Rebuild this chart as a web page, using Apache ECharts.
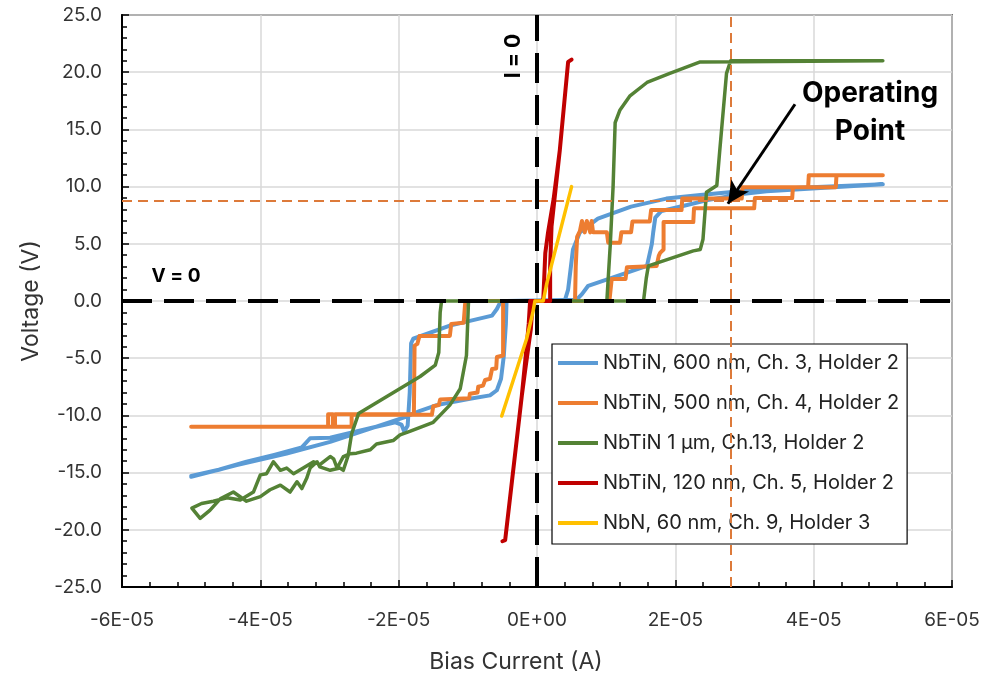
<!DOCTYPE html>
<html><head><meta charset="utf-8">
<script src="https://cdn.jsdelivr.net/npm/echarts@6/dist/echarts.min.js"></script>
<style>html,body{margin:0;padding:0;background:#fff}#c{width:994px;height:679px}</style>
</head><body><div id="c"></div><script>
// Series names (legend)
const seriesNames = [
  'NbTiN, 600 nm, Ch. 3, Holder 2',
  'NbTiN, 500 nm, Ch. 4, Holder 2',
  'NbTiN 1 \u00b5m, Ch.13, Holder 2',
  'NbTiN, 120 nm, Ch. 5, Holder 2',
  'NbN, 60 nm, Ch. 9, Holder 3'
];
// [bias current (A), voltage (V)] — full sweep loops
const nbtin600 = [
  [-5.00e-5,-15.3],[-4.60e-5,-14.75],[-4.20e-5,-14.05],[-3.80e-5,-13.45],[-3.40e-5,-12.8],[-3.28e-5,-12.0],
  [-2.99e-5,-11.95],[-2.75e-5,-11.6],[-2.40e-5,-11.1],[-2.05e-5,-10.6],[-1.96e-5,-10.8],[-1.92e-5,-11.4],
  [-1.87e-5,-10.9],[-1.84e-5,-8.0],[-1.82e-5,-3.7],[-1.79e-5,-3.3],[-1.26e-5,-2.15],[-0.65e-5,-1.28],
  [-0.58e-5,-0.7],[-0.53e-5,-0.1],[-0.50e-5,0],[0.40e-5,0],[0.45e-5,1.0],[0.52e-5,4.5],[0.62e-5,6.0],
  [0.88e-5,7.2],[1.36e-5,8.25],[1.87e-5,8.95],[2.36e-5,9.26],[2.93e-5,9.6],[3.80e-5,9.9],[5.00e-5,10.2],
  [3.32e-5,9.6],[2.93e-5,9.32],[2.45e-5,8.8],[2.11e-5,8.3],[1.80e-5,7.87],[1.71e-5,7.29],[1.68e-5,6.0],
  [1.66e-5,4.97],[1.59e-5,3.07],[0.74e-5,1.33],[0.65e-5,0.6],[0.57e-5,0.1],[0.55e-5,0],[-0.44e-5,0],
  [-0.45e-5,-2.0],[-0.48e-5,-4.8],[-0.52e-5,-6.8],[-0.58e-5,-7.8],[-0.68e-5,-8.25],[-0.97e-5,-8.54],
  [-1.45e-5,-9.1],[-1.69e-5,-9.6],[-1.93e-5,-10.2],[-2.41e-5,-11.15],[-2.99e-5,-12.31],[-3.62e-5,-13.33],
  [-4.34e-5,-14.35],[-5.00e-5,-15.36]
];
const nbtin500 = [
  [-5.00e-5,-11.0],[-3.02e-5,-11.0],[-3.02e-5,-9.9],[-2.95e-5,-9.9],[-2.95e-5,-10.9],[-2.92e-5,-10.9],
  [-2.92e-5,-9.9],[-1.78e-5,-9.9],[-1.77e-5,-3.9],[-1.73e-5,-3.75],[-1.70e-5,-3.05],[-1.26e-5,-3.05],
  [-1.24e-5,-2.0],[-1.06e-5,-1.9],[-1.04e-5,-0.3],[-1.03e-5,0],[0.55e-5,0],[0.56e-5,3.0],[0.58e-5,5.6],
  [0.62e-5,6.1],[0.65e-5,7.0],[0.69e-5,6.0],[0.72e-5,7.0],[0.77e-5,6.0],[0.79e-5,7.0],[0.81e-5,6.0],
  [1.01e-5,6.0],[1.03e-5,5.1],[1.20e-5,5.1],[1.22e-5,6.0],[1.36e-5,6.0],[1.38e-5,6.95],[1.63e-5,6.95],
  [1.65e-5,7.95],[2.09e-5,7.95],[2.10e-5,8.95],[2.96e-5,8.95],[2.97e-5,9.95],[3.92e-5,9.95],[3.93e-5,11.0],
  [5.00e-5,11.0],[4.33e-5,11.0],[4.32e-5,9.95],[3.70e-5,9.95],[3.69e-5,9.0],[3.15e-5,9.0],[3.14e-5,8.1],
  [2.27e-5,8.1],[2.26e-5,6.9],[1.83e-5,6.9],[1.83e-5,4.5],[1.78e-5,4.2],[1.76e-5,3.95],[1.73e-5,3.07],
  [1.30e-5,2.95],[1.28e-5,1.92],[1.08e-5,1.92],[1.05e-5,0.2],[1.04e-5,0],[-0.49e-5,0],[-0.49e-5,-4.76],
  [-0.58e-5,-4.9],[-0.59e-5,-5.9],[-0.65e-5,-5.95],[-0.68e-5,-6.8],[-0.75e-5,-6.9],[-0.78e-5,-7.4],
  [-0.85e-5,-7.5],[-0.86e-5,-8.0],[-0.97e-5,-8.1],[-0.98e-5,-8.5],[-1.40e-5,-8.6],[-1.42e-5,-9.1],
  [-1.50e-5,-9.2],[-1.52e-5,-9.95],[-2.68e-5,-9.95],[-2.68e-5,-11.0],[-5.00e-5,-11.0]
];
const nbtin1um = [
  [-4.99e-5,-18.1],[-4.87e-5,-19.0],[-4.73e-5,-18.3],[-4.58e-5,-17.3],[-4.39e-5,-16.7],[-4.20e-5,-17.5],
  [-4.00e-5,-17.1],[-3.86e-5,-16.5],[-3.71e-5,-16.1],[-3.57e-5,-16.7],[-3.47e-5,-15.8],[-3.40e-5,-16.4],
  [-3.33e-5,-15.5],[-3.28e-5,-14.6],[-3.18e-5,-14.05],[-3.14e-5,-14.5],[-2.99e-5,-14.8],[-2.85e-5,-14.6],
  [-2.80e-5,-14.8],[-2.73e-5,-13.5],[-2.68e-5,-11.6],[-2.58e-5,-9.84],[-1.69e-5,-6.6],[-1.47e-5,-5.6],
  [-1.42e-5,-4.5],[-1.40e-5,-1.0],[-1.38e-5,0],[1.54e-5,0],[1.58e-5,2.0],[1.61e-5,3.07],[2.26e-5,4.38],
  [2.36e-5,4.5],[2.40e-5,5.4],[2.45e-5,9.5],[2.55e-5,9.9],[2.60e-5,10.1],[2.64e-5,13.0],[2.74e-5,19.9],
  [2.80e-5,21.0],[5.00e-5,21.0],[2.36e-5,20.9],[1.92e-5,19.9],[1.59e-5,19.1],[1.34e-5,17.9],[1.20e-5,16.7],
  [1.13e-5,15.6],[1.10e-5,10.0],[1.06e-5,5.0],[1.01e-5,0],[-0.99e-5,0],[-1.02e-5,-4.76],[-1.11e-5,-7.67],
  [-1.26e-5,-9.1],[-1.50e-5,-10.6],[-1.84e-5,-11.4],[-1.98e-5,-11.7],[-2.08e-5,-12.2],[-2.32e-5,-12.5],
  [-2.41e-5,-13.0],[-2.61e-5,-13.3],[-2.70e-5,-13.35],[-2.80e-5,-13.6],[-2.89e-5,-14.6],[-2.94e-5,-13.8],
  [-2.99e-5,-13.6],[-3.14e-5,-14.3],[-3.23e-5,-14.05],[-3.38e-5,-14.6],[-3.52e-5,-15.1],[-3.62e-5,-14.6],
  [-3.71e-5,-14.8],[-3.81e-5,-14.05],[-3.91e-5,-15.1],[-4.00e-5,-15.2],[-4.10e-5,-16.7],[-4.29e-5,-17.4],
  [-4.48e-5,-17.2],[-4.68e-5,-17.5],[-4.85e-5,-17.7],[-4.99e-5,-18.1]
];
const nbtin120 = [
  [-5.0e-6,-21.0],[-4.6e-6,-20.9],[-2.2e-6,-8.3],[-1.5e-6,-4.0],[-1.2e-6,-2.0],[-1.0e-6,0],[0.9e-6,0],
  [1.2e-6,4.2],[1.6e-6,6.0],[2.4e-6,8.9],[3.3e-6,13.2],[4.5e-6,20.9],[5.0e-6,21.1],[4.5e-6,20.9],
  [3.3e-6,13.2],[2.1e-6,6.5],[1.9e-6,3.0],[1.9e-6,0],[-0.6e-6,0],[-0.9e-6,-2.5],[-1.7e-6,-6.0],[-2.2e-6,-8.3]
];
const nbn60 = [
  [-5.1e-6,-10.05],[-1.5e-6,-3.3],[-0.6e-6,-1.0],[-0.3e-6,0],[0.9e-6,0],[1.4e-6,1.5],[5.0e-6,10.0]
];
// Reference markers
const operatingPoint = [2.8e-5, 8.8]; // [current, voltage]

const colors = ['#5B9BD5','#ED7D31','#548235','#C00000','#FFC000'];
const widths = [4, 4, 3.5, 4, 3.5];
const allData = [nbtin600, nbtin500, nbtin1um, nbtin120, nbn60];
const FONT = 'Inter';

function sci(v){
  if (Math.abs(v) < 1e-12) return '0E+00';
  const e = Math.floor(Math.log10(Math.abs(v)) + 1e-9);
  const m = Math.round(v / Math.pow(10, e));
  return m + 'E' + (e < 0 ? '-' : '+') + String(Math.abs(e)).padStart(2, '0');
}

const chart = echarts.init(document.getElementById('c'), null, {renderer:'canvas'});
const series = allData.map((d, i) => ({
  name: seriesNames[i], type: 'line', data: d, symbol: 'none', showSymbol: false,
  lineStyle: {color: colors[i], width: widths[i], cap: 'round', join: 'round'},
  itemStyle: {color: colors[i]}, z: 2 + i, animation: false
}));
series.push({
  name: 'refs', type: 'line', data: [], z: 20,
  markLine: {
    silent: true, symbol: ['none','none'], animation: false, precision: 12,
    label: {show: false},
    data: [
      {yAxis: operatingPoint[1], lineStyle: {color: '#DD7A3A', width: 2, type: [10, 6]}},
      {xAxis: operatingPoint[0], lineStyle: {color: '#DD7A3A', width: 2, type: [10, 6]}},
      {yAxis: 0, lineStyle: {color: '#000', width: 4, type: [30, 12]}},
      {xAxis: 0, lineStyle: {color: '#000', width: 4, type: [30, 12]}},
      [
        {coord: [3.73e-5, 17.2], symbol: 'none', lineStyle: {color: '#000', width: 3, type: 'solid'}},
        {coord: [2.76e-5, 8.5], symbol: 'arrow', symbolSize: [16, 22]}
      ]
    ]
  }
});

chart.setOption({
  animation: false,
  backgroundColor: '#fff',
  textStyle: {fontFamily: FONT},
  grid: {left: 122, top: 15, right: 42, bottom: 90, show: true, borderColor: '#000', borderWidth: 1.5},
  xAxis: {
    type: 'value', min: -6e-5, max: 6e-5, interval: 2e-5,
    name: 'Bias Current (A)', nameLocation: 'middle', nameGap: 64,
    nameTextStyle: {fontSize: 23, color: '#333', fontFamily: FONT, padding: [0, 42, 0, 0]},
    axisLine: {onZero: false, lineStyle: {color: '#000', width: 2}},
    axisTick: {show: true, inside: true, length: 7, lineStyle: {color: '#000', width: 1.5}},
    minorTick: {show: true, splitNumber: 5, length: 5, lineStyle: {color: '#000', width: 1.5}},
    axisLabel: {formatter: sci, fontSize: 19, color: '#333', margin: 24, fontFamily: FONT},
    splitLine: {show: true, lineStyle: {color: '#D9D9D9', width: 1.5}}
  },
  yAxis: {
    type: 'value', min: -25, max: 25, interval: 5,
    name: 'Voltage (V)', nameLocation: 'middle', nameGap: 78,
    nameTextStyle: {fontSize: 23, color: '#333', fontFamily: FONT},
    axisLine: {onZero: false, lineStyle: {color: '#000', width: 2}},
    axisTick: {show: true, inside: true, length: 7, lineStyle: {color: '#000', width: 1.5}},
    minorTick: {show: true, splitNumber: 5, length: 5, lineStyle: {color: '#000', width: 1.5}},
    axisLabel: {formatter: v => v.toFixed(1), fontSize: 19, color: '#333', margin: 20, fontFamily: FONT},
    splitLine: {show: true, lineStyle: {color: '#D9D9D9', width: 1.5}}
  },
  legend: {
    data: seriesNames.map(n => ({name: n, icon: 'rect'})), orient: 'vertical', left: 552, top: 344,
    backgroundColor: '#fff', borderColor: '#000', borderWidth: 1.2,
    padding: [9, 8, 11, 6], itemGap: 20, itemWidth: 40, itemHeight: 4,
    textStyle: {fontSize: 20, color: '#222', lineHeight: 20, fontFamily: FONT}
  },
  graphic: [
    {type: 'text', x: 514, y: 56, rotation: Math.PI / 2, z: 100,
     style: {text: 'I = 0', font: 'bold 21px ' + FONT, fill: '#000', align: 'center', verticalAlign: 'middle'}},
    {type: 'text', x: 176, y: 276, z: 100,
     style: {text: 'V = 0', font: 'bold 19px ' + FONT, fill: '#000', align: 'center', verticalAlign: 'middle'}},
    {type: 'text', x: 870, y: 113, z: 100,
     style: {text: 'Operating\nPoint', font: 'bold 28px ' + FONT, lineHeight: 38, fill: '#000', align: 'center', verticalAlign: 'middle'}}
  ],
  series: series
});
</script></body></html>
